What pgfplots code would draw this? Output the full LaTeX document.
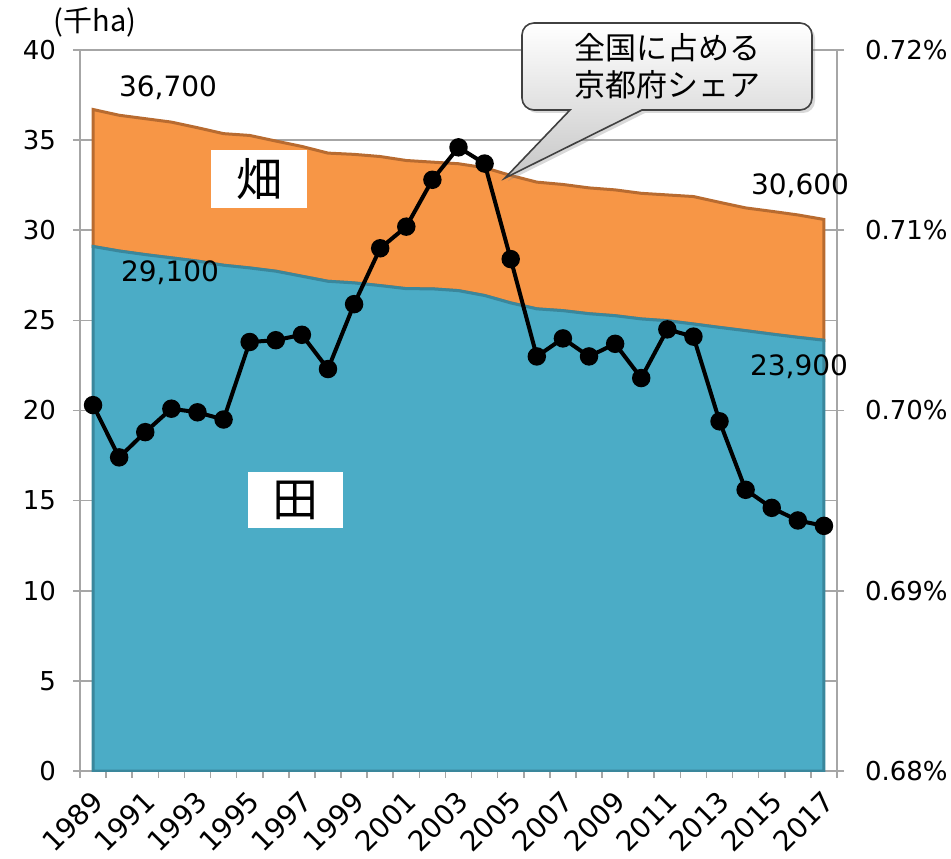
\documentclass[border=0pt]{standalone}
\usepackage{pgfplots}
\pgfplotsset{compat=1.18}
\usepackage{fontspec}
\setmainfont{DejaVu Sans}
\newfontfamily\cjk{Noto Sans CJK JP}
\usetikzlibrary{shadows}

\definecolor{paddy}{HTML}{4BACC6}
\definecolor{paddyedge}{HTML}{3A879C}
\definecolor{upland}{HTML}{F79646}
\definecolor{uplandedge}{HTML}{B86B30}
\definecolor{gridgray}{HTML}{A6A6A6}

% Cultivated land in Kyoto (thousand ha) and its share of the national total (%)
\pgfplotstableread{
idx paddy upland
0  29.10 7.60
1  28.85 7.53
2  28.65 7.54
3  28.47 7.53
4  28.29 7.40
5  28.06 7.30
6  27.91 7.35
7  27.73 7.22
8  27.45 7.20
9  27.17 7.11
10 27.08 7.13
11 26.93 7.16
12 26.76 7.11
13 26.75 7.03
14 26.65 7.04
15 26.38 7.09
16 25.97 7.07
17 25.64 7.03
18 25.54 7.00
19 25.37 6.98
20 25.26 6.98
21 25.08 6.97
22 24.98 6.98
23 24.80 7.07
24 24.61 6.94
25 24.43 6.81
26 24.24 6.81
27 24.06 6.79
28 23.90 6.70
}\landtable

\pgfplotstableread{
idx share
0  0.7003
1  0.6974
2  0.6988
3  0.7001
4  0.6999
5  0.6995
6  0.7038
7  0.7039
8  0.7042
9  0.7023
10 0.7059
11 0.7090
12 0.7102
13 0.7128
14 0.7146
15 0.7137
16 0.7084
17 0.7030
18 0.7040
19 0.7030
20 0.7037
21 0.7018
22 0.7045
23 0.7041
24 0.6994
25 0.6956
26 0.6946
27 0.6939
28 0.6936
}\sharetable

\pgfplotsset{
  common/.style={
    scale only axis, width=378.5pt, height=360.5pt,
    xmin=-0.5, xmax=28.5,
    tick align=outside,
    major tick length=3.5pt,
    minor tick length=3.5pt,
    tick style={gridgray, line width=0.8pt},
    axis line style={gridgray, line width=0.8pt},
    tick label style={font=\fontsize{13}{13}\selectfont, text=black},
  }
}

\begin{document}
\begin{tikzpicture}[x=1pt,y=1pt]
\path[use as bounding box] (-40,-43.5) rectangle (435.5,385.5);

\begin{axis}[common,
  ymin=0, ymax=40,
  axis x line*=bottom, axis y line*=left,
  ytick={0,5,...,40},
  yticklabels={0,5,10,15,20,25,30,35,40},
  yticklabel style={xshift=-5pt},
  ymajorgrids=true,
  major grid style={gridgray, line width=0.8pt},
  xtick={0,2,...,28},
  xticklabels={1989,1991,1993,1995,1997,1999,2001,2003,2005,2007,2009,2011,2013,2015,2017},
  major x tick style={draw=none},
  minor xtick={-0.5,0.5,...,28.5},
  minor x tick style={gridgray, line width=0.8pt},
  xticklabel style={font=\fontsize{14}{14}\selectfont, inner sep=0pt,
    xshift=2.5pt, yshift=-9pt, rotate=45, anchor=east},
  stack plots=y,
]
\addplot[fill=paddy, draw=paddyedge, line width=1.5pt] table[x=idx, y=paddy] {\landtable} \closedcycle;
\addplot[fill=upland, draw=uplandedge, line width=1.5pt] table[x=idx, y=upland] {\landtable} \closedcycle;
\end{axis}

\begin{axis}[common,
  ymin=0.68, ymax=0.72,
  axis x line=none, axis y line*=right,
  ytick={0.68,0.69,0.70,0.71,0.72},
  yticklabels={0.68\%,0.69\%,0.70\%,0.71\%,0.72\%},
  yticklabel style={xshift=7pt},
]
\addplot[black, line width=2pt, mark=*, mark size=3.6pt,
  mark options={fill=black}] table[x=idx, y=share] {\sharetable};
\end{axis}

% unit
\node[font=\cjk\fontsize{14.5}{14.5}\selectfont] at (7.5,374.5) {(千ha)};

% end values
\node[font=\fontsize{14}{14}\selectfont] at (44,341.5) {36,700};
\node[font=\fontsize{14}{14}\selectfont] at (45,249) {29,100};
\node[font=\fontsize{14}{14}\selectfont] at (360,292.5) {30,600};
\node[font=\fontsize{14}{14}\selectfont] at (359.5,202) {23,900};

% area names
\node[fill=white, minimum width=48pt, minimum height=29pt, inner sep=0pt,
  font=\cjk\fontsize{23}{23}\selectfont] at (89.5,296) {畑};
\node[fill=white, minimum width=47.5pt, minimum height=28pt, inner sep=0pt,
  font=\cjk\fontsize{23}{23}\selectfont] at (107.75,135.5) {田};

% callout for the share line
\draw[draw=black!75, line width=0.8pt, top color=white, bottom color=black!22,
  drop shadow={opacity=0.3, shadow xshift=1.5pt, shadow yshift=-1.5pt}]
  (227,374) -- (360,374) arc[start angle=90, end angle=0, radius=6]
  -- (366,336.5) arc[start angle=0, end angle=-90, radius=6]
  -- (281,330.5) -- (212.5,296.5) -- (245,330.5)
  -- (227,330.5) arc[start angle=270, end angle=180, radius=6]
  -- (221,368) arc[start angle=180, end angle=90, radius=6] -- cycle;
\node[align=center, font=\cjk\fontsize{15.5}{18.5}\selectfont] at (293.5,352.25)
  {全国に占める\\京都府シェア};
\end{tikzpicture}
\end{document}
